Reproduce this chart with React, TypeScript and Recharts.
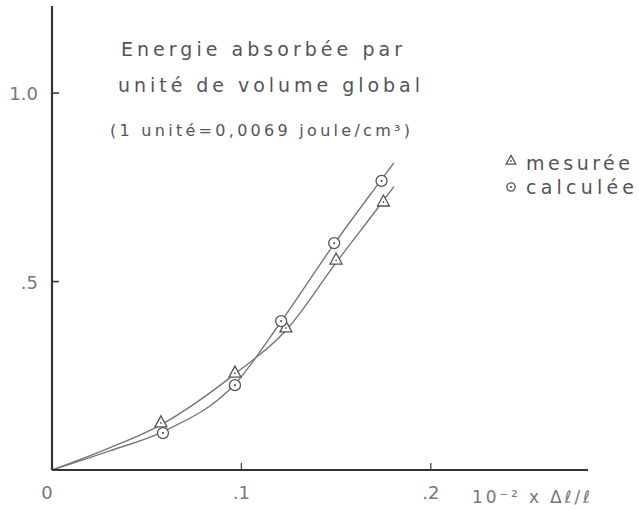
import React from "react";
import { ComposedChart, Line, Scatter, XAxis, YAxis, Customized } from "recharts";

// measured points (triangles)
const xMes = [0.0575, 0.0966, 0.1235, 0.15, 0.175];
const yMes = [0.125, 0.257, 0.377, 0.557, 0.711];
// calculated points (circles)
const xCal = [0.0586, 0.0966, 0.121, 0.149, 0.174];
const yCal = [0.098, 0.225, 0.395, 0.602, 0.767];
// hand-drawn curves
const curveMesX = [0, 0.03, 0.0575, 0.0966, 0.1235, 0.15, 0.175, 0.1805];
const curveMesY = [0, 0.058, 0.12, 0.255, 0.37, 0.55, 0.715, 0.752];
const curveCalX = [0, 0.03, 0.0586, 0.0966, 0.121, 0.149, 0.174, 0.1805];
const curveCalY = [0, 0.05, 0.102, 0.228, 0.394, 0.6, 0.771, 0.815];

const xTicks = [0, 0.1, 0.2];
const xTickLabels = ["0", ".1", ".2"];
const yTicks = [0.5, 1.0];
const yTickLabels = [".5", "1.0"];

const titleLines = ["Energie absorbée par", "unité de volume global", "(1 unité=0,0069 joule/cm³)"];
const legendLabels = ["mesurée", "calculée"];
const xAxisTitle = "10⁻² x Δℓ/ℓ";

const mesData = xMes.map((x, i) => ({ x, y: yMes[i] }));
const calData = xCal.map((x, i) => ({ x, y: yCal[i] }));
const curveMes = curveMesX.map((x, i) => ({ x, y: curveMesY[i] }));
const curveCal = curveCalX.map((x, i) => ({ x, y: curveCalY[i] }));

const INK = "#555";
const FONT = "'DejaVu Sans', sans-serif";

const Tri = (props: any) => {
  const { cx, cy, s = 1 } = props;
  if (cx == null || cy == null) return null;
  return (
    <g>
      <polygon points={`${cx},${cy - 7 * s} ${cx - 6 * s},${cy + 4 * s} ${cx + 6 * s},${cy + 4 * s}`} fill="#fff" stroke={INK} strokeWidth={1.3} />
      <circle cx={cx} cy={cy} r={0.9} fill={INK} />
    </g>
  );
};

const Circ = (props: any) => {
  const { cx, cy, s = 1 } = props;
  if (cx == null || cy == null) return null;
  return (
    <g>
      <circle cx={cx} cy={cy} r={5.5 * s} fill="#fff" stroke={INK} strokeWidth={1.3} />
      <circle cx={cx} cy={cy} r={1.1} fill={INK} />
    </g>
  );
};

const YTick = (props: any) => {
  const { x, y, payload } = props;
  const lbl = yTickLabels[yTicks.indexOf(payload.value)] ?? "";
  return (
    <g>
      <line x1={x} x2={x + 7} y1={y} y2={y} stroke="#333" strokeWidth={1.5} />
      <text x={x - 14} y={y + 7} textAnchor="end" fontFamily={FONT} fontSize={18} fill="#777">{lbl}</text>
    </g>
  );
};

const XTick = (props: any) => {
  const { x, y, payload } = props;
  const i = xTicks.indexOf(payload.value);
  const lbl = xTickLabels[i] ?? "";
  return (
    <g>
      {payload.value !== 0 && <line x1={x} x2={x} y1={y} y2={y - 7} stroke="#444" strokeWidth={1.3} />}
      <text x={payload.value === 0 ? x - 5 : x} y={y + 29} textAnchor="middle" fontFamily={FONT} fontSize={18} fill="#777">{lbl}</text>
    </g>
  );
};

const Annotations = () => (
  <g fontFamily={FONT} fill={INK}>
    <text x={121} y={56} fontSize={19} textLength={281} lengthAdjust="spacing">{titleLines[0]}</text>
    <text x={118} y={92} fontSize={19} textLength={302} lengthAdjust="spacing">{titleLines[1]}</text>
    <text x={110} y={136} fontSize={16} textLength={300} lengthAdjust="spacing">{titleLines[2]}</text>
    <Tri cx={511} cy={161} s={0.8} />
    <text x={526} y={170} fontSize={19} textLength={104} lengthAdjust="spacing">{legendLabels[0]}</text>
    <Circ cx={511} cy={187} s={0.75} />
    <text x={526} y={194} fontSize={19} textLength={108} lengthAdjust="spacing">{legendLabels[1]}</text>
    <text x={472} y={503} fontSize={17} fill="#777" textLength={118} lengthAdjust="spacing">{xAxisTitle}</text>
  </g>
);

export default function App() {
  return (
    <div style={{ position: "absolute", left: 0, top: 0, width: 639, height: 509, background: "#fff" }}>
      <ComposedChart width={639} height={509} margin={{ top: 6, right: 51, bottom: 9, left: 0 }}>
        <XAxis
          type="number"
          dataKey="x"
          domain={[0, 0.283]}
          ticks={xTicks}
          tick={<XTick />}
          tickLine={false}
          tickSize={0}
          tickMargin={0}
          height={30}
          axisLine={{ stroke: "#333", strokeWidth: 2.2 }}
          allowDataOverflow
        />
        <YAxis
          type="number"
          dataKey="y"
          domain={[0, 1.231]}
          ticks={yTicks}
          tick={<YTick />}
          tickLine={false}
          tickSize={0}
          tickMargin={0}
          width={52}
          axisLine={{ stroke: "#333", strokeWidth: 2.2 }}
          allowDataOverflow
        />
        <Line data={curveMes} dataKey="y" type="monotone" stroke="#777" strokeWidth={1.4} dot={false} isAnimationActive={false} />
        <Line data={curveCal} dataKey="y" type="monotone" stroke="#777" strokeWidth={1.4} dot={false} isAnimationActive={false} />
        <Scatter data={mesData} dataKey="y" shape={<Tri />} isAnimationActive={false} />
        <Scatter data={calData} dataKey="y" shape={<Circ />} isAnimationActive={false} />
        <Customized component={Annotations} />
      </ComposedChart>
    </div>
  );
}
